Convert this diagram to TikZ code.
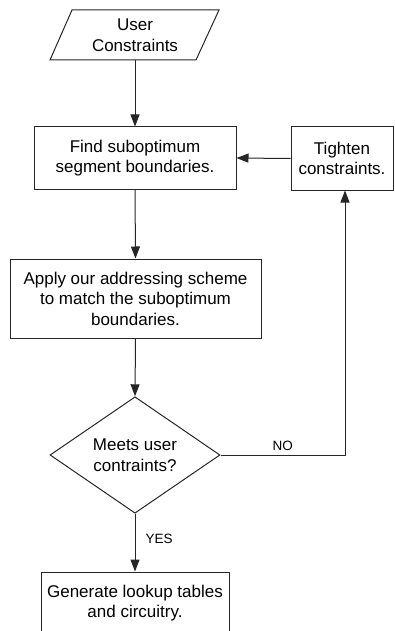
\documentclass[tikz,border=0pt]{standalone}
\usepackage{fontspec}
\setmainfont{Liberation Sans}
\usetikzlibrary{shapes.geometric,arrows.meta}
\begin{document}
\begin{tikzpicture}[x=1pt,y=-1pt,
  line width=1pt,
  box/.style={draw=black!85, rectangle, inner sep=0pt, align=center,
    font=\fontsize{17}{20.5}\selectfont},
  decision/.style={draw=black!85, diamond, inner sep=0pt, align=center,
    font=\fontsize{17}{20.5}\selectfont},
  lbl/.style={inner sep=0pt, font=\fontsize{13.5}{16}\selectfont},
  flow/.style={draw=black!85, -{Triangle[length=12pt,width=9pt]}}]
\useasboundingbox (0,0) rectangle (394,631);
% input parallelogram
\draw[draw=black!85] (72,10) -- (219,10) -- (196,60) -- (50,60) -- cycle;
\node[box, draw=none, minimum width=120pt, minimum height=50pt] (uc) at (135,35) {User\\Constraints};
\node[box, minimum width=202pt, minimum height=62pt] (find) at (135,158) {Find suboptimum\\segment boundaries.};
\node[box, minimum width=102pt, minimum height=63pt] (tight) at (342,158.5) {Tighten\\constraints.};
\node[box, minimum width=251pt, minimum height=79pt] (apply) at (135.5,298.5) {Apply our addressing scheme\\to match the suboptimum\\boundaries.};
\node[decision, minimum width=170pt, minimum height=94pt] (meet) at (135,455) {Meets user\\contraints?};
\node[box, minimum width=188pt, minimum height=62pt] (gen) at (135,603) {Generate lookup tables\\and circuitry.};
% connectors
\draw[flow] (uc.south) -- (find.north);
\draw[flow] (tight.west) -- (find.east);
\draw[flow] (find.south) -- (apply.north);
\draw[flow] (apply.south) -- (meet.north);
\draw[flow] (meet.east) -| node[lbl, pos=0.25, above=4pt] {NO} ([xshift=3pt]tight.south);
\draw[flow] (meet.south) -- node[lbl, pos=0.43, right=10pt] {YES} (gen.north);
\end{tikzpicture}
\end{document}
